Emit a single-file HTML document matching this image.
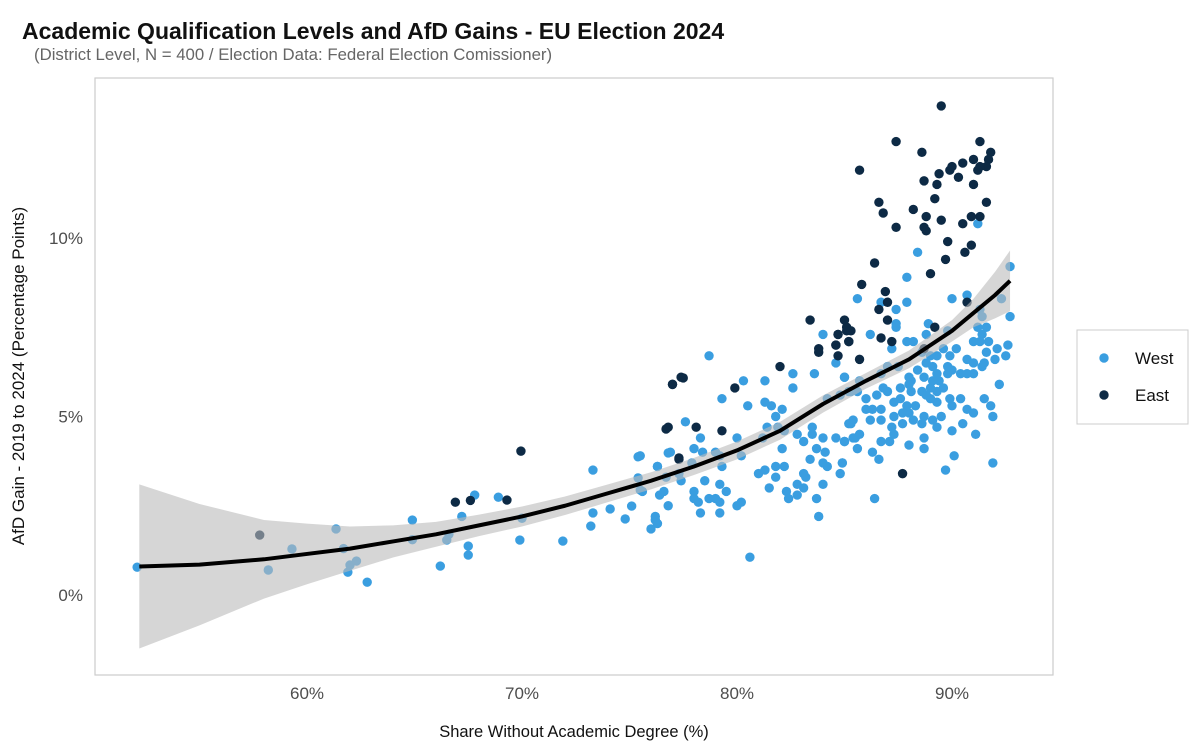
<!DOCTYPE html>
<html><head><meta charset="utf-8"><style>
body{margin:0;background:#fff;font-family:"Liberation Sans",sans-serif}
svg text{font-family:"Liberation Sans",sans-serif}
</style></head><body>
<svg id="chart" width="1200" height="750" viewBox="0 0 1200 750">
<text x="22" y="39" font-size="23" font-weight="bold" fill="#111">Academic Qualification Levels and AfD Gains - EU Election 2024</text>
<text x="34" y="60" font-size="16.8" fill="#666">(District Level, N = 400 / Election Data: Federal Election Comissioner)</text>
<rect x="95" y="78" width="958" height="597" fill="none" stroke="#ccc" stroke-width="1.2"/>
<g id="points"></g>
<g id="band"></g>
<g id="axes"></g>
<text x="574" y="737" font-size="16.5" text-anchor="middle" fill="#111">Share Without Academic Degree (%)</text>
<text transform="translate(24,376) rotate(-90)" font-size="17" text-anchor="middle" fill="#111">AfD Gain - 2019 to 2024 (Percentage Points)</text>
<g>
<rect x="1077" y="330" width="111" height="94" fill="#fff" stroke="#ccc" stroke-width="1"/>
<circle cx="1104" cy="358" r="4.7" fill="#3a9ee0"/>
<text x="1135" y="364" font-size="17" fill="#111">West</text>
<circle cx="1104" cy="395" r="4.7" fill="#0d2a45"/>
<text x="1135" y="401" font-size="17" fill="#111">East</text>
</g>
</svg>
<script>
const xTicks=[60,70,80,90];
const xTickLabels=["60%","70%","80%","90%"];
const yTicks=[0,5,10];
const yTickLabels=["0%","5%","10%"];
const westX=[52.1,58.2,59.3,61.35,61.7,61.9,62.0,62.3,62.8,64.9,64.9,66.2,66.5,66.6,67.2,67.8,67.5,67.5,68.9,69.9,70.0,71.9,73.3,73.2,73.3,74.1,74.8,75.1,75.5,75.4,75.4,76.0,76.2,76.4,76.3,76.8,77.6,
78.7,84.0,80.3,81.3,82.6,82.6,83.6,84.6,85.0,79.3,80.5,81.3,81.6,82.1,81.8,81.4,81.9,78.3,80.0,81.2,82.2,82.8,83.1,83.5,84.0,83.7,84.6,85.0,85.4,85.2,85.4,84.2,84.8,85.2,85.6,83.5,76.9,78.0,78.4,79.0,79.2,80.2,77.9,75.5,76.3,76.7,77.3,77.4,78.5,79.3,81.0,81.8,82.2,81.8,82.8,83.1,83.2,83.1,84.0,83.4,84.0,84.2,84.1,84.9,84.8,82.3,79.2,79.5,78.0,78.0,78.2,78.7,79.0,79.2,76.8,75.6,76.6,80.0,80.2,78.3,79.2,83.7,83.8,76.2,76.3,80.6,81.3,81.5,82.1,82.4,82.8,
91.2,88.4,92.7,87.9,85.6,86.7,87.9,87.4,90.0,90.7,92.3,92.7,87.4,86.2,88.2,87.2,87.9,88.9,88.8,89.8,91.3,91.4,91.2,91.4,91.6,91.0,91.3,91.7,92.1,91.6,92.0,91.5,91.4,90.7,91.0,90.2,89.9,89.6,89.3,89.0,88.6,88.8,89.1,88.4,88.0,88.1,88.7,89.1,89.3,89.8,90.0,90.4,90.7,91.0,89.8,89.4,89.0,89.3,89.6,88.6,88.1,87.6,87.9,88.3,88.8,89.0,89.3,89.9,90.4,90.0,90.7,91.0,91.5,91.9,90.5,90.0,91.1,89.5,89.1,89.3,88.7,88.6,88.0,87.7,87.7,87.3,87.2,87.3,87.1,88.0,88.7,88.7,88.2,86.7,86.3,86.2,86.7,86.0,85.7,85.5,85.0,85.3,86.7,86.3,86.6,85.6,91.9,84.9,87.3,87.0,87.6,88.0,86.5,86.0,86.8,85.0,87.0,87.5,86.7,85.7,85.3,87.4,92.6,92.2,91.8,92.5,90.1,89.7,86.4];
const westY=[0.78,0.7,1.29,1.85,1.3,0.64,0.84,0.95,0.36,2.1,1.55,0.81,1.54,1.7,2.2,2.8,1.12,1.37,2.74,1.54,2.15,1.51,3.5,1.93,2.3,2.41,2.13,2.49,2.94,3.28,3.87,1.85,2.1,2.8,3.6,3.98,4.85,
6.7,7.3,6.0,6.0,6.2,5.8,6.2,6.5,6.1,5.5,5.3,5.4,5.3,5.2,5.0,4.7,4.7,4.4,4.4,4.4,4.6,4.5,4.3,4.5,4.4,4.1,4.4,4.3,4.4,4.8,4.9,5.5,5.6,5.7,5.7,4.7,4.0,4.1,4.0,4.0,3.9,3.9,3.7,3.9,3.6,3.3,3.4,3.2,3.2,3.6,3.4,3.6,3.6,3.3,3.1,3.4,3.3,3.0,3.1,3.8,3.7,3.6,4.0,3.7,3.4,2.9,3.1,2.9,2.9,2.7,2.6,2.7,2.7,2.6,2.5,2.9,2.9,2.5,2.6,2.3,2.3,2.7,2.2,2.2,2.0,1.06,3.5,3.0,4.1,2.7,2.8,
10.4,9.6,9.2,8.9,8.3,8.2,8.2,8.0,8.3,8.4,8.3,7.8,7.5,7.3,7.1,6.9,7.1,7.6,7.3,7.4,8.0,7.8,7.5,7.3,7.5,7.1,7.1,7.1,6.9,6.8,6.6,6.5,6.4,6.6,6.5,6.9,6.7,6.9,6.7,6.7,6.8,6.5,6.4,6.3,6.1,6.0,6.1,6.0,6.2,6.4,6.3,6.2,6.2,6.2,6.2,6.0,5.8,5.7,5.8,5.7,5.7,5.5,5.3,5.3,5.6,5.5,5.4,5.5,5.5,5.3,5.2,5.1,5.5,5.0,4.8,4.6,4.5,5.0,4.9,4.7,5.0,4.8,5.1,5.1,4.8,5.0,4.7,4.5,4.3,4.2,4.1,4.4,4.9,5.2,5.2,4.9,4.9,5.2,4.5,4.4,4.3,4.8,4.3,4.0,3.8,4.1,3.7,3.7,5.4,5.7,5.8,5.9,5.6,5.5,5.8,6.1,6.4,6.4,6.2,6.0,5.7,7.6,7.0,5.9,5.3,6.7,3.9,3.5,2.7];
const eastX=[57.8,66.9,67.6,69.3,69.95,76.7,77.0,77.5,77.3,77.0,77.4,79.9,82.0,76.8,78.1,79.3,77.3,83.8,84.6,84.7,85.2,84.7,85.1,
89.5,87.4,91.3,88.6,91.8,91.7,91.0,90.5,91.6,91.3,91.2,90.0,89.9,89.4,85.7,88.7,89.3,90.3,91.0,89.2,91.6,86.6,86.8,88.2,88.8,89.5,90.9,91.3,88.7,88.8,87.4,90.5,89.8,90.9,90.6,89.7,86.4,89.0,85.8,86.9,87.0,86.6,87.0,85.0,83.4,85.3,84.7,84.6,85.2,86.7,87.2,89.2,90.7,83.8,85.1,85.7,88.7,87.7];
const eastY=[1.68,2.6,2.65,2.66,4.03,4.65,5.9,6.08,3.84,5.9,6.1,5.8,6.4,4.7,4.7,4.6,3.8,6.8,7.0,7.3,7.1,6.7,7.4,
13.7,12.7,12.7,12.4,12.4,12.2,12.2,12.1,12.0,12.0,11.9,12.0,11.9,11.8,11.9,11.6,11.5,11.7,11.5,11.1,11.0,11.0,10.7,10.8,10.6,10.5,10.6,10.6,10.3,10.2,10.3,10.4,9.9,9.8,9.6,9.4,9.3,9.0,8.7,8.5,8.2,8.0,7.7,7.7,7.7,7.4,7.3,7.0,7.1,7.2,7.1,7.5,8.2,6.9,7.5,6.6,6.9,3.4];
const fitX=[52.2,55,58,60,62,64,66,68,70,72,74,76,78,80,82,84,86,88,90,91,92,92.7];
const fitY=[0.8,0.85,1.0,1.15,1.3,1.5,1.7,1.95,2.2,2.5,2.85,3.2,3.6,4.05,4.6,5.35,6.0,6.6,7.4,7.9,8.4,8.8];
const fitSE=[2.3,1.7,1.1,0.85,0.62,0.45,0.35,0.3,0.28,0.26,0.25,0.24,0.24,0.25,0.25,0.24,0.22,0.25,0.3,0.4,0.65,0.85];

const NS="http://www.w3.org/2000/svg";
const xs=v=>307+(v-60)*21.5;
const ys=v=>595-v*35.7;
const pts=document.getElementById('points');
function dot(x,y,c,name){
  const el=document.createElementNS(NS,'circle');
  el.setAttribute('cx',xs(x));el.setAttribute('cy',ys(y));el.setAttribute('r',4.7);el.setAttribute('fill',c);
  
  
  pts.appendChild(el);
}
westX.forEach((x,i)=>dot(x,westY[i],'#3a9ee0','point-west'));
eastX.forEach((x,i)=>dot(x,eastY[i],'#0d2a45','point-east'));
const band=document.getElementById('band');
let up=fitX.map((x,i)=>xs(x)+','+ys(fitY[i]+fitSE[i]));
let lo=fitX.map((x,i)=>xs(x)+','+ys(fitY[i]-fitSE[i])).reverse();
const poly=document.createElementNS(NS,'polygon');
poly.setAttribute('points',up.concat(lo).join(' '));
poly.setAttribute('fill','#bbb');poly.setAttribute('fill-opacity','0.6');


band.appendChild(poly);
const line=document.createElementNS(NS,'polyline');
line.setAttribute('points',fitX.map((x,i)=>xs(x)+','+ys(fitY[i])).join(' '));
line.setAttribute('fill','none');line.setAttribute('stroke','#000');line.setAttribute('stroke-width','4');line.setAttribute('stroke-linejoin','round');


band.appendChild(line);
const axes=document.getElementById('axes');
xTicks.forEach((t,i)=>{
  const el=document.createElementNS(NS,'text');
  el.setAttribute('x',xs(t));el.setAttribute('y',699);el.setAttribute('text-anchor','middle');
  el.setAttribute('font-size','17');el.setAttribute('fill','#4d4d4d');el.textContent=xTickLabels[i];
  
  
  axes.appendChild(el);
});
yTicks.forEach((t,i)=>{
  const el=document.createElementNS(NS,'text');
  el.setAttribute('x',83);el.setAttribute('y',ys(t)+6);el.setAttribute('text-anchor','end');
  el.setAttribute('font-size','17');el.setAttribute('fill','#4d4d4d');el.textContent=yTickLabels[i];
  
  
  axes.appendChild(el);
});
</script>
</body></html>
